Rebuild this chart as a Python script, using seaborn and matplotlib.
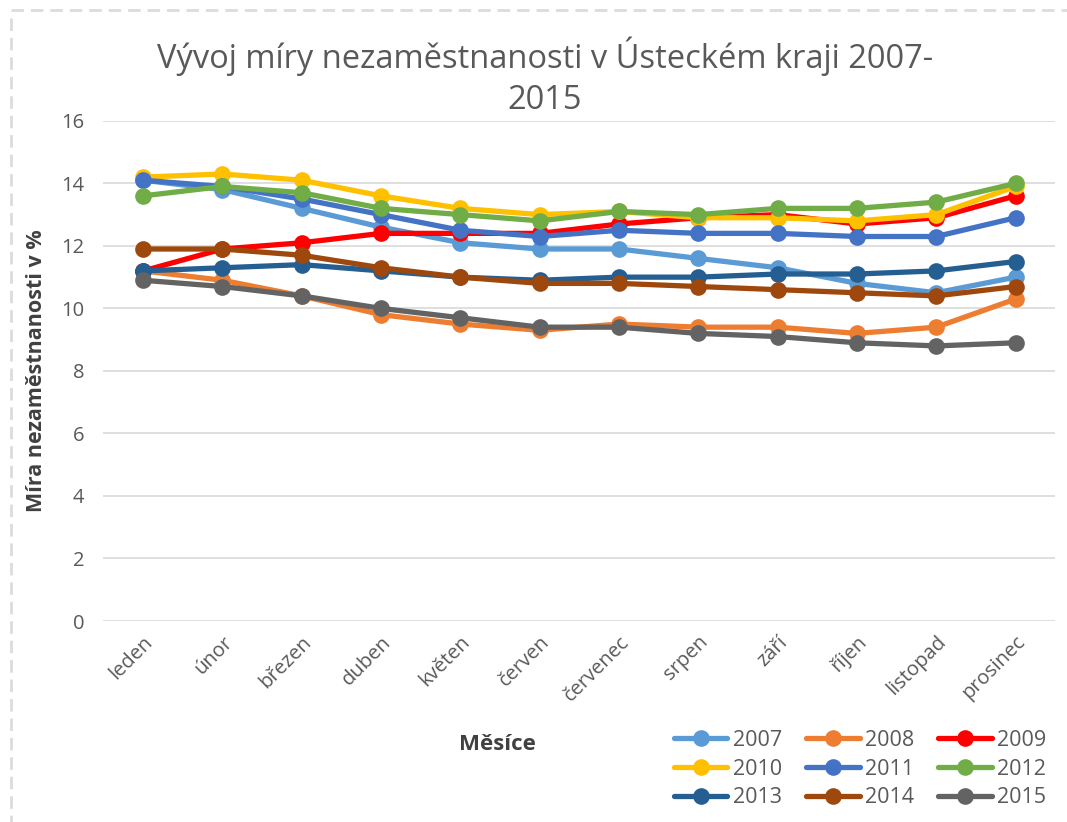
import pandas as pd
import matplotlib.pyplot as plt
import seaborn as sns
from matplotlib.lines import Line2D

# Months (categories on the x axis)
mesice = ['leden', 'únor', 'březen', 'duben', 'květen', 'červen',
          'červenec', 'srpen', 'září', 'říjen', 'listopad', 'prosinec']

# Unemployment rate (%) per year
r2007 = [14.1, 13.8, 13.2, 12.6, 12.1, 11.9, 11.9, 11.6, 11.3, 10.8, 10.5, 11.0]
r2008 = [11.2, 10.9, 10.4, 9.8, 9.5, 9.3, 9.5, 9.4, 9.4, 9.2, 9.4, 10.3]
r2009 = [11.2, 11.9, 12.1, 12.4, 12.4, 12.4, 12.7, 12.9, 13.0, 12.7, 12.9, 13.6]
r2010 = [14.2, 14.3, 14.1, 13.6, 13.2, 13.0, 13.1, 12.9, 12.9, 12.8, 13.0, 13.9]
r2011 = [14.1, 13.9, 13.5, 13.0, 12.5, 12.3, 12.5, 12.4, 12.4, 12.3, 12.3, 12.9]
r2012 = [13.6, 13.9, 13.7, 13.2, 13.0, 12.8, 13.1, 13.0, 13.2, 13.2, 13.4, 14.0]
r2013 = [11.2, 11.3, 11.4, 11.2, 11.0, 10.9, 11.0, 11.0, 11.1, 11.1, 11.2, 11.5]
r2014 = [11.9, 11.9, 11.7, 11.3, 11.0, 10.8, 10.8, 10.7, 10.6, 10.5, 10.4, 10.7]
r2015 = [10.9, 10.7, 10.4, 10.0, 9.7, 9.4, 9.4, 9.2, 9.1, 8.9, 8.8, 8.9]

roky = ['2007', '2008', '2009', '2010', '2011', '2012', '2013', '2014', '2015']
barvy = ['#5B9BD5', '#ED7D31', '#FF0000', '#FFC000', '#4472C4',
         '#70AD47', '#255E91', '#9E480E', '#636363']

serie = [r2007, r2008, r2009, r2010, r2011, r2012, r2013, r2014, r2015]
rows = []
for rok, hodnoty in zip(roky, serie):
    for m, v in zip(mesice, hodnoty):
        rows.append({'Měsíce': m, 'Rok': rok, 'Míra': v})
df = pd.DataFrame(rows)

sns.set_style('white')
plt.rcParams['font.family'] = ['Open Sans', 'DejaVu Sans']

fig = plt.figure(figsize=(10.67, 8.22), dpi=100)
ax = fig.add_axes([0.097, 0.2445, 0.892, 0.6085])

sns.lineplot(data=df, x='Měsíce', y='Míra', hue='Rok', palette=barvy,
             marker='o', markersize=12, markeredgewidth=0, linewidth=3.8,
             sort=False, ax=ax)

ax.set_xlim(-0.5, len(mesice) - 0.5)
ax.set_ylim(0, 16)
ax.set_yticks(range(0, 17, 2))
ax.yaxis.grid(True, color='#D9D9D9', linewidth=1.2)
ax.set_axisbelow(True)
for s in ax.spines.values():
    s.set_visible(False)
ax.tick_params(axis='both', length=0, colors='#595959', labelsize=14.5)
ax.tick_params(axis='y', pad=14)
ax.tick_params(axis='x', pad=8, labelrotation=45)
for t in ax.get_xticklabels():
    t.set_rotation(45)
    t.set_ha('right')
    t.set_rotation_mode('anchor')

ax.set_xlabel('')
ax.set_ylabel('Míra nezaměstnanosti v %', fontsize=15.5, fontweight='bold',
              color='#404040', labelpad=10)
fig.text(497 / 1067, 1 - 744 / 822, 'Měsíce', fontsize=16, fontweight='bold',
         color='#404040', ha='center', va='center')

fig.text(545 / 1067, 1 - 77 / 822,
         'Vývoj míry nezaměstnanosti v Ústeckém kraji 2007-\n2015',
         fontsize=23.5, color='#595959', ha='center', va='center',
         linespacing=1.3)

# legend: 3 columns filled row by row
h, l = ax.get_legend_handles_labels()
order = [0, 3, 6, 1, 4, 7, 2, 5, 8]
ax.legend([h[i] for i in order], [l[i] for i in order], ncol=3,
          frameon=False, fontsize=15.5, labelcolor='#595959',
          handlelength=2.5, handletextpad=0.25, columnspacing=1.1,
          labelspacing=0.35, loc='center', bbox_to_anchor=(860 / 1067, 1 - 769 / 822),
          bbox_transform=fig.transFigure)

# dashed selection border (top and left)
fig.add_artist(Line2D([11 / 1067, 1.0], [1 - 10 / 822, 1 - 10 / 822],
                      transform=fig.transFigure, color='#DCDCDC',
                      linewidth=2, linestyle=(0, (4.5, 2.5))))
fig.add_artist(Line2D([11 / 1067, 11 / 1067], [1 - 18 / 822, 0],
                      transform=fig.transFigure, color='#DCDCDC',
                      linewidth=2, linestyle=(0, (4.5, 2.5))))

fig.savefig('out.png', dpi=100)
